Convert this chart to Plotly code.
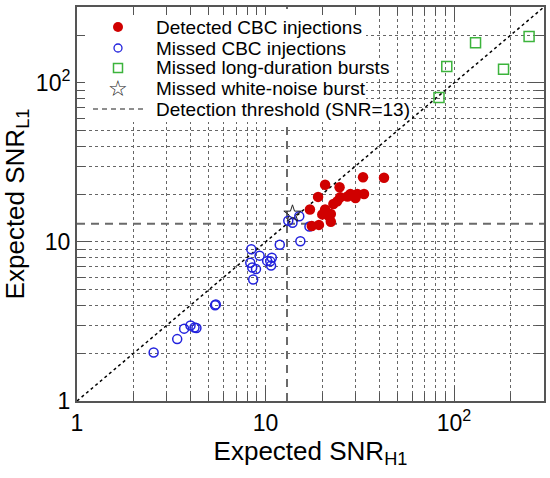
import plotly.graph_objects as go

# data (expected SNR in H1 / L1)
det_h1 = [42.5, 32.9, 20.7, 24.7, 19.0, 33.3, 30.7, 28.2, 30.0, 27.2, 24.9,
          24.0, 22.9, 17.2, 20.7, 22.2, 20.0, 21.7, 22.2, 19.2, 17.6]
det_l1 = [25.3, 25.5, 22.9, 22.1, 19.2, 20.0, 20.0, 20.0, 18.9, 19.3, 19.1,
          18.0, 17.3, 16.0, 16.0, 15.0, 14.9, 14.5, 13.4, 12.8, 12.6]

miss_h1 = [13.2, 13.9, 15.1, 17.1, 15.3, 11.9, 8.4, 9.3, 10.8, 10.2, 10.6, 10.7,
           8.3, 8.5, 8.9, 8.6, 5.4, 5.45, 4.0, 4.2, 4.3, 3.7, 3.4, 2.55]
miss_l1 = [13.6, 13.2, 14.5, 12.5, 10.1, 9.6, 9.0, 8.2, 7.95, 7.6, 7.55, 7.1,
           7.4, 6.9, 6.75, 5.8, 4.0, 4.05, 2.98, 2.9, 2.88, 2.85, 2.45, 2.02]

burst_h1 = [250, 130, 91.5, 183, 83.2]
burst_l1 = [196, 179, 127, 122, 81]

wn_h1 = [13.9]
wn_l1 = [15.0]

threshold = 13
axis_lo, axis_hi = 1, 300

legend_labels = ['Detected CBC injections', 'Missed CBC injections',
                 'Missed long-duration bursts', 'Missed white-noise burst',
                 'Detection threshold (SNR=13)']

major_vals = [1, 10, 100]
major_text = ['1', '10', '10<sup>2</sup>']
minor_vals = [d * 10 ** e for e in range(3) for d in range(2, 10)][:-6]

W, H = 550, 478
L, R, T, B = 77, 6, 7, 77
FONT = 'Liberation Sans, Arial, sans-serif'


def px(x):
    return (x - L) / (W - L - R)


def py(y):
    return (H - B - y) / (H - B - T)


traces = []
traces.append(go.Scatter(x=[threshold, threshold, None, axis_lo, axis_hi],
                         y=[axis_lo, axis_hi, None, threshold, threshold],
                         mode='lines', line=dict(color='#6a6a6a', width=2, dash='8px,6px'),
                         hoverinfo='skip'))
traces.append(go.Scatter(x=[axis_lo, axis_hi], y=[axis_lo, axis_hi],
                         mode='lines', line=dict(color='black', width=1.5, dash='dot'),
                         hoverinfo='skip'))
traces.append(go.Scatter(x=miss_h1, y=miss_l1, mode='markers',
                         marker=dict(symbol='circle-open', size=9, color='#2222dd',
                                     line=dict(width=1.5))))
traces.append(go.Scatter(x=det_h1, y=det_l1, mode='markers',
                         marker=dict(symbol='circle', size=10.5, color='#d00000')))
traces.append(go.Scatter(x=burst_h1, y=burst_l1, mode='markers',
                         marker=dict(symbol='square-open', size=10, color='#3cb43c',
                                     line=dict(width=1.5))))
traces.append(go.Scatter(x=wn_h1, y=wn_l1, mode='markers',
                         marker=dict(symbol='star-open', size=13, color='#222222',
                                     line=dict(width=1))))

fig = go.Figure(traces)

axis_common = dict(type='log', range=[0, 2.4771], showline=True, linecolor='#555555',
                   linewidth=2, mirror='allticks', ticks='inside', ticklen=15,
                   tickcolor='#555555', zeroline=False, automargin=False,
                   tickvals=major_vals, ticktext=major_text, tickfont=dict(size=23),
                   showgrid=True, gridcolor='#666666', gridwidth=1, griddash='dot',
                   minor=dict(tickmode='array', tickvals=minor_vals, ticks='inside',
                              ticklen=8, tickcolor='#555555', showgrid=True,
                              gridcolor='#666666', gridwidth=1, griddash='dot'))

fig.update_layout(
    width=W, height=H, showlegend=False,
    margin=dict(l=L, r=R, t=T, b=B),
    plot_bgcolor='white', paper_bgcolor='white',
    font=dict(family=FONT, color='black'),
    xaxis=dict(**axis_common,
               title=dict(text='Expected SNR<sub>H1</sub>', font=dict(size=26), standoff=6)),
    yaxis=dict(**axis_common,
               title=dict(text='Expected SNR<sub>L1</sub>', font=dict(size=26), standoff=8)),
)

# legend drawn by hand so the rows sit as tightly as in the original
shapes = [
    dict(type='rect', xref='paper', yref='paper', layer='above',
         x0=px(85), x1=px(366), y0=py(122), y1=py(15),
         fillcolor='white', line=dict(width=0)),
    dict(type='rect', xref='paper', yref='paper', layer='above',
         x0=px(366), x1=px(392), y0=py(78), y1=py(58),
         fillcolor='white', line=dict(width=0)),
    dict(type='rect', xref='paper', yref='paper', layer='above',
         x0=px(366), x1=px(412), y0=py(120), y1=py(99),
         fillcolor='white', line=dict(width=0)),
]
row_y = [27, 48, 68, 89, 109]
mx = 118
shapes.append(dict(type='circle', xref='paper', yref='paper', layer='above',
                   x0=px(mx - 5), x1=px(mx + 5), y0=py(row_y[0] + 5), y1=py(row_y[0] - 5),
                   fillcolor='#d00000', line=dict(color='#d00000', width=0)))
shapes.append(dict(type='circle', xref='paper', yref='paper', layer='above',
                   x0=px(mx - 4), x1=px(mx + 4), y0=py(row_y[1] + 4), y1=py(row_y[1] - 4),
                   line=dict(color='#2222dd', width=1.3)))
shapes.append(dict(type='rect', xref='paper', yref='paper', layer='above',
                   x0=px(mx - 4.5), x1=px(mx + 4.5), y0=py(row_y[2] + 4.5), y1=py(row_y[2] - 4.5),
                   line=dict(color='#3cb43c', width=1.5)))
shapes.append(dict(type='line', xref='paper', yref='paper', layer='above',
                   x0=px(93), x1=px(143), y0=py(row_y[4]), y1=py(row_y[4]),
                   line=dict(color='#6a6a6a', width=1.5, dash='5px,4px')))
fig.update_layout(shapes=shapes)

annotations = []
for label, ry in zip(legend_labels, row_y):
    annotations.append(dict(text=label, xref='paper', yref='paper', x=px(154), y=py(ry),
                            xanchor='left', yanchor='middle', showarrow=False,
                            font=dict(size=19, family=FONT)))
annotations.append(dict(text='\u2606', xref='paper', yref='paper', x=px(mx), y=py(row_y[3]),
                        xanchor='center', yanchor='middle', showarrow=False,
                        font=dict(size=22, family='DejaVu Sans', color='#222222')))
fig.update_layout(annotations=annotations)

# the page's default body margin would push the chart 8px down and right
fig.write_html("out.html", config={'displayModeBar': False},
               post_script="document.body.style.margin='0';")
